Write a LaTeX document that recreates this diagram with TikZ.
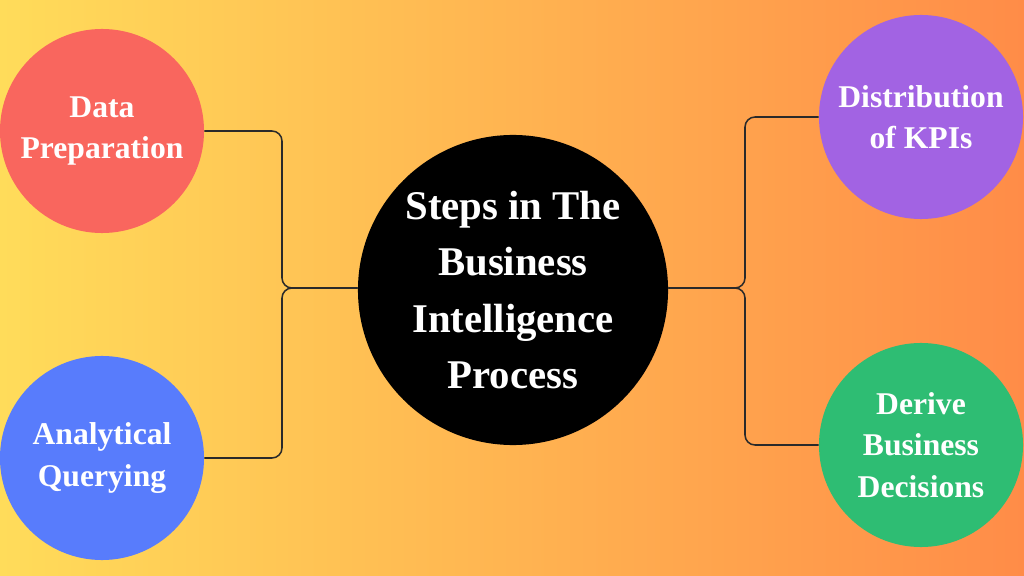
\documentclass[tikz,border=0pt]{standalone}
\usepackage{fontspec}
\setmainfont{Liberation Serif}
\begin{document}
\begin{tikzpicture}[x=0.025cm,y=-0.025cm]
\definecolor{bgleft}{HTML}{FFDC5A}
\definecolor{bgright}{HTML}{FF8C48}
\definecolor{stepred}{HTML}{F9665E}
\definecolor{stepblue}{HTML}{587CFC}
\definecolor{steppurple}{HTML}{A263E3}
\definecolor{stepgreen}{HTML}{2EBD73}
\definecolor{wire}{HTML}{2A2A2A}
\tikzset{link/.style = {draw=wire, line width=1.1pt, rounded corners=0.25cm}}
\tikzset{bubble/.style = {shape=circle, draw=none, minimum size=5.1cm, inner sep=0pt, align=center, text=white, font=\fontsize{22.5}{29.5}\selectfont\bfseries}}
\tikzset{hub/.style = {shape=circle, fill=black, minimum size=7.75cm, inner sep=0pt, align=center, text=white, font=\fontsize{29}{40}\selectfont\bfseries}}
% background
\shade[left color=bgleft, right color=bgright] (0,0) rectangle (1024,576);
\useasboundingbox (0,0) rectangle (1024,576);
\node[hub](core) at (513,290) {Steps in The\\Business\\Intelligence\\Process};
\node[bubble, fill=stepred](dp) at (102,131) {Data\\Preparation};
\node[bubble, fill=stepblue](aq) at (102,458) {Analytical\\Querying};
\node[bubble, fill=steppurple](kpi) at (921,117) {Distribution\\of KPIs};
\node[bubble, fill=stepgreen](bd) at (921,445) {Derive\\Business\\Decisions};
% connectors
\draw[link] (dp.east) -- (282,131) -- (282,288) -- (core.west |- 0,288);
\draw[link] (aq.east) -- (282,458) -- (282,288) -- (core.west |- 0,288);
\draw[link] (kpi.west) -- (745,117) -- (745,288) -- (core.east |- 0,288);
\draw[link] (bd.west) -- (745,445) -- (745,288) -- (core.east |- 0,288);
\end{tikzpicture}
\end{document}
